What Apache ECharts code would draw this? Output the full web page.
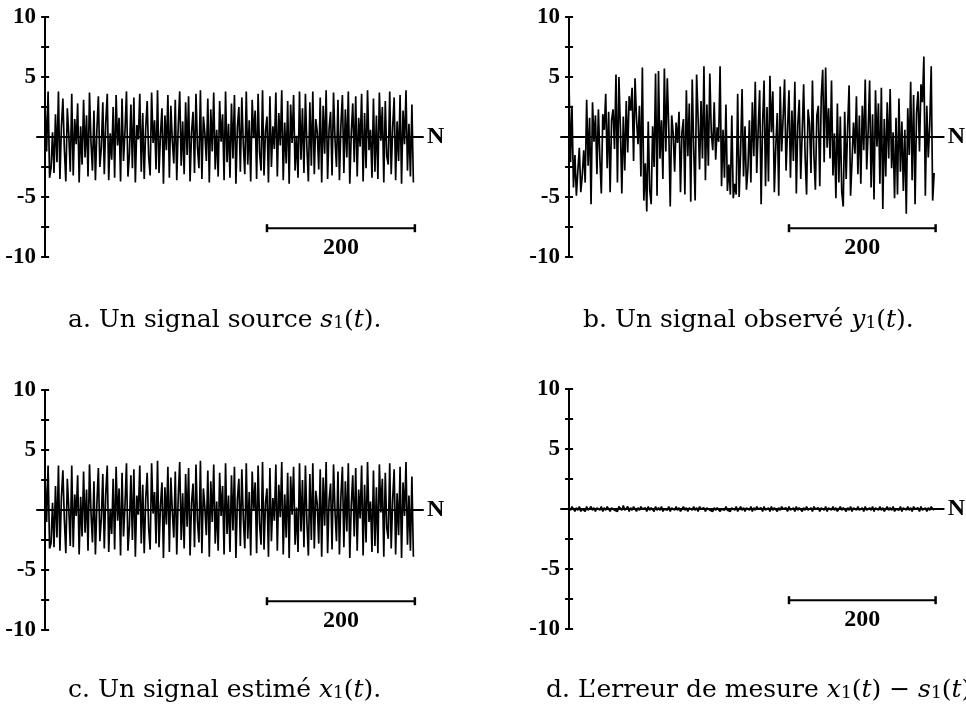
<!DOCTYPE html>
<html>
<head>
<meta charset="utf-8">
<script src="https://cdn.jsdelivr.net/npm/echarts@6/dist/echarts.min.js"></script>
<style>
html, body { margin: 0; padding: 0; background: #fff; }
#main { width: 966px; height: 708px; }
</style>
</head>
<body>
<div id="main"></div>
<script>
// sample values (every 2nd sample)
const sourceS1 = [
  2.6, -1.2, 3.8, -3.4, -2.6, 0.4, -3.0, 1.9, -2.1, 3.8, -3.5, 0.8, 3.2, -1.0, -3.7, 2.4, 0.2, -2.9, 3.6, -3.2, 1.5, -0.6, 2.8, -3.8, 0.9,
  -2.3, 3.1, -1.7, 1.8, -3.3, 3.7, -0.4, -2.8, 2.2, -3.6, 0.6, 3.4, -2.5, -0.9, 2.9, -3.1, 1.2, 3.6, -3.6, 0.3, -1.9, 2.5, -3.4, 3.5, -0.7,
  1.6, -3.7, 3.2, -2.0, 0.5, 3.8, -3.3, -1.4, 2.7, -2.6, 3.3, -3.8, 1.0, -0.2, 3.6, -2.9, 2.0, -3.5, 0.7, 3.0, -1.6, -3.2, 3.7, -0.5, 1.4,
  -2.7, 3.9, -3.0, 0.2, 2.4, -3.9, 1.8, -1.1, 3.5, -3.4, 2.6, -0.3, -2.2, 3.1, -3.6, 0.9, 3.8, -2.4, 1.3, -3.1, 2.9, -1.5, 3.4, -3.7, 0.4,
  2.1, -3.0, 3.6, -0.8, -2.6, 3.9, -3.5, 1.7, 0.3, -2.0, 3.2, -3.8, 2.3, -1.2, 3.7, -2.7, 0.6, -3.3, 3.0, -0.4, 1.9, -3.6, 3.8, -2.1, 1.1,
  -3.4, 2.8, -1.8, 3.5, -3.9, 0.8, 2.5, -2.9, 3.3, -0.6, -3.1, 3.8, -2.3, 1.4, -3.7, 3.1, -0.1, 2.2, -3.5, 3.6, -1.3, -2.8, 3.9, -3.2, 0.5,
  1.7, -3.8, 3.4, -2.5, 0.9, -1.0, 3.7, -3.3, 2.0, -0.7, 3.9, -3.6, 1.2, -2.2, 3.0, -3.9, 2.7, -0.5, 3.5, -2.8, 0.1, -3.4, 3.8, -1.9, 2.4,
  -3.0, 3.6, -0.9, -3.7, 2.9, -2.4, 3.8, -3.1, 1.5, 0.4, -2.7, 3.3, -3.8, 2.6, -1.4, 3.9, -3.5, 0.7, 2.1, -3.2, 3.7, -0.2, -2.5, 3.1, -3.6,
  1.0, 3.5, -3.0, 2.3, -1.7, 3.8, -3.9, 0.3, 2.8, -2.1, 3.4, -3.3, 1.6, -0.8, 3.6, -3.7, 2.0, -2.6, 3.9, -1.1, 0.6, -3.4, 3.2, -2.9, 1.8,
  -3.5, 3.7, -0.3, 2.5, -3.8, 3.0, -1.6, -2.3, 3.8, -3.1, 0.8, 3.3, -3.6, 1.3, -2.0, 3.5, -3.9, 2.2, -0.6, 3.9, -2.8, 1.1, -3.3, 2.7, -3.8
]

const observedY1 = [
  4.4, -2.1, 2.6, -4.2, -1.5, -4.9, -2.8, -0.9, -4.6, -3.2, -1.1, -3.8, 3.1, -2.4, 1.6, -5.6, 2.9, -0.4, 1.8, -3.1, 2.3, -1.7, -4.7, 1.9, 0.6,
  3.6, -2.6, 2.1, -4.6, 1.4, 2.3, -1.0, 5.2, -3.8, 5.0, 0.8, -4.7, 1.7, -2.8, 3.0, -1.3, 3.4, 2.2, 4.1, -2.0, 4.9, 1.5, -0.6, 2.6, -3.3,
  5.8, -5.3, -2.2, -6.2, 1.3, -4.4, -5.6, 0.9, -2.5, 5.3, -4.9, 5.5, -1.8, 1.4, -3.5, 5.7, -1.2, 4.9, 0.7, -5.8, 1.8, 0.3, -2.9, 1.2, -0.5,
  2.1, -4.6, 0.4, 1.5, -4.8, 3.9, -1.6, 2.8, -5.4, 4.8, -0.9, -5.3, 5.2, 1.6, -2.7, 3.0, -1.8, 5.9, -3.6, 2.7, -2.4, 5.3, 0.4, -1.1, 2.9,
  -1.9, 0.8, -0.4, 5.9, -4.1, 0.6, -3.4, 2.7, -4.5, -2.3, -4.8, 1.8, -5.1, -3.9, -4.8, 3.6, -5.0, -1.2, 4.0, -3.3, 0.9, -4.4, -2.6, 1.4, -3.8,
  2.9, -1.6, 4.6, -3.0, 0.7, 3.9, -5.6, 1.1, 4.7, -4.1, 2.5, -3.7, 5.1, 0.4, 3.8, -4.6, -0.8, 2.0, -4.9, 4.2, -1.2, 1.6, 4.8, -2.8, 0.6,
  3.9, -3.4, 2.2, -2.0, 4.6, -4.7, 1.0, 3.1, -3.5, 0.3, 4.4, -1.6, -4.8, 2.3, 1.1, -3.0, 4.7, -1.5, -4.4, 1.8, 2.6, -4.1, 3.3, 5.6, -2.1,
  5.8, -0.9, 2.4, -1.8, 4.7, -3.2, 0.3, -5.1, 2.8, -3.8, 1.7, -4.6, -5.8, 2.1, -3.5, 0.8, 4.3, -4.9, -2.0, 1.2, -1.4, 3.4, -3.1, 1.8, -3.9,
  2.6, -1.1, 4.8, -2.7, 0.5, 4.7, -4.2, 1.9, -5.2, 3.9, -0.8, 2.8, -3.9, 4.1, -6.0, 1.5, -3.3, 2.9, -1.8, 4.0, -2.6, 0.4, -5.1, 1.6, -4.8,
  3.2, -2.9, 1.3, -4.5, 0.6, -6.4, 2.4, -1.5, 4.6, -3.6, 3.5, -5.6, 2.0, 3.8, -1.2, 4.4, 2.9, 6.7, -4.9, 2.6, -1.7, 1.0, 5.9, -5.3, -3.0
]

const estimatedX1 = [
  2.7, -1.0, 3.7, -3.2, -2.8, 0.6, -3.1, 2.0, -2.3, 3.7, -3.4, 1.0, 3.3, -0.8, -3.6, 2.6, 0.1, -3.0, 3.7, -3.1, 1.3, -0.5, 2.9, -3.7, 1.1,
  -2.2, 3.2, -1.9, 1.7, -3.4, 3.8, -0.2, -2.7, 2.4, -3.7, 0.5, 3.5, -2.6, -0.7, 3.0, -3.2, 1.4, 3.7, -3.5, 0.1, -2.0, 2.6, -3.3, 3.6, -0.9,
  1.8, -3.8, 3.1, -2.2, 0.4, 3.9, -3.4, -1.3, 2.9, -2.5, 3.4, -3.9, 1.2, -0.4, 3.7, -2.8, 2.1, -3.6, 0.9, 3.1, -1.5, -3.3, 3.9, -0.3, 1.5,
  -2.8, 4.1, -3.1, 0.4, 2.3, -4.0, 1.9, -1.2, 3.6, -3.5, 2.7, -0.1, -2.3, 3.2, -3.7, 1.1, 4.0, -2.5, 1.4, -3.2, 3.0, -1.4, 3.5, -3.8, 0.6,
  2.2, -3.1, 3.8, -0.9, -2.7, 4.1, -3.6, 1.8, 0.2, -2.1, 3.3, -3.9, 2.4, -1.0, 3.8, -2.8, 0.7, -3.4, 3.1, -0.5, 2.0, -3.7, 3.9, -2.0, 1.2,
  -3.5, 2.9, -1.7, 3.6, -4.0, 0.9, 2.6, -3.0, 3.4, -0.7, -3.2, 3.9, -2.4, 1.5, -3.8, 3.2, 0.0, 2.3, -3.6, 3.7, -1.2, -2.9, 4.0, -3.3, 0.6,
  1.8, -3.9, 3.5, -2.6, 1.0, -0.9, 3.8, -3.4, 2.1, -0.6, 4.0, -3.7, 1.3, -2.3, 3.1, -4.0, 2.8, -0.4, 3.6, -2.9, 0.2, -3.5, 3.9, -1.8, 2.5,
  -3.1, 3.7, -1.0, -3.8, 3.0, -2.5, 3.9, -3.2, 1.6, 0.5, -2.8, 3.4, -3.9, 2.7, -1.3, 4.0, -3.6, 0.8, 2.2, -3.3, 3.8, -0.1, -2.6, 3.2, -3.7,
  1.1, 3.6, -3.1, 2.4, -1.8, 3.9, -4.0, 0.4, 2.9, -2.2, 3.5, -3.4, 1.7, -0.7, 3.7, -3.8, 2.1, -2.7, 4.0, -1.0, 0.7, -3.5, 3.3, -3.0, 1.9,
  -3.6, 3.8, -0.2, 2.6, -3.9, 3.1, -1.5, -2.4, 3.9, -3.2, 0.9, 3.4, -3.7, 1.4, -2.1, 3.6, -4.0, 2.3, -0.5, 4.0, -2.9, 1.2, -3.4, 2.8, -3.9
]

const errorX1S1 = [
  0.1, -0.1, 0.2, 0.0, -0.2, 0.1, -0.1, 0.2, -0.2, 0.0, 0.1, -0.2, 0.2, -0.1, 0.0, 0.2, -0.1, 0.1, -0.2, 0.1, 0.0, -0.1, 0.2, -0.2, 0.1,
  -0.1, 0.2, 0.0, -0.2, 0.1, 0.2, -0.1, 0.0, -0.2, 0.2, 0.1, -0.1, 0.3, -0.1, 0.0, 0.2, -0.2, 0.1, -0.1, 0.2, 0.0, -0.2, 0.1, -0.1, 0.2,
  0.0, -0.1, 0.1, -0.2, 0.2, -0.1, 0.1, 0.0, -0.2, 0.2, -0.1, 0.1, -0.1, 0.2, -0.2, 0.0, 0.1, -0.1, 0.2, -0.2, 0.1, 0.0, -0.1, 0.2, -0.1,
  0.1, -0.2, 0.0, 0.2, -0.1, 0.1, -0.2, 0.1, 0.0, -0.1, 0.2, -0.1, 0.1, -0.2, 0.2, 0.0, -0.1, 0.1, -0.2, 0.1, 0.2, -0.1, 0.0, -0.2, 0.1,
  -0.1, 0.1, 0.2, -0.2, 0.0, 0.1, -0.1, 0.2, -0.1, 0.0, -0.2, 0.1, 0.1, -0.1, 0.2, -0.2, 0.0, 0.2, -0.1, 0.1, -0.2, 0.1, 0.0, -0.1, 0.2,
  -0.2, 0.1, -0.1, 0.2, 0.0, -0.1, 0.1, -0.2, 0.2, -0.1, 0.0, 0.1, -0.2, 0.2, -0.1, 0.1, 0.0, -0.2, 0.1, -0.1, 0.2, 0.0, -0.1, 0.1, -0.2,
  0.2, -0.1, 0.0, 0.1, -0.2, 0.2, -0.1, 0.1, 0.0, -0.2, 0.1, -0.1, 0.2, -0.1, 0.0, 0.1, -0.2, 0.2, 0.0, -0.1, 0.1, -0.2, 0.1, 0.0, -0.1,
  0.2, -0.2, 0.1, 0.0, -0.1, 0.2, -0.1, 0.1, -0.2, 0.0, 0.2, -0.1, 0.1, 0.0, -0.2, 0.1, -0.1, 0.2, -0.2, 0.1, 0.0, -0.1, 0.2, -0.1, 0.0,
  0.1, -0.2, 0.2, -0.1, 0.0, 0.1, -0.1, 0.2, -0.2, 0.1, 0.0, -0.1, 0.2, -0.1, 0.1, -0.2, 0.0, 0.2, -0.1, 0.1, -0.1, 0.2, -0.2, 0.0, 0.1,
  -0.1, 0.2, -0.2, 0.1, 0.0, -0.1, 0.2, -0.1, 0.1, -0.2, 0.2, 0.0, -0.1, 0.1, -0.2, 0.2, -0.1, 0.0, 0.1, -0.2, 0.1, -0.1, 0.2, 0.0, -0.1
]

const sampleStep = 2
const yLabels = [-10, -5, 5, 10]
const scaleBar = [300, 500]
const scaleBarLevel = -7.6
const scaleText = '200'
const axisName = 'N'
const captions = [
  'a. Un signal source {i|s}{sub|1}({i|t}).',
  'b. Un signal observé {i|y}{sub|1}({i|t}).',
  'c. Un signal estimé {i|x}{sub|1}({i|t}).',
  'd. L’erreur de mesure {i|x}{sub|1}({i|t}) − {i|s}{sub|1}({i|t})'
]

const panels = [
  { data: sourceS1, left: 37, top: 17, capX: 68, capY: 320 },
  { data: observedY1, left: 561, top: 17, capX: 583, capY: 320 },
  { data: estimatedX1, left: 37, top: 390, capX: 68, capY: 690 },
  { data: errorX1S1, left: 561, top: 389, capX: 546, capY: 690 }
]

const serif = 'Liberation Serif'
const capFont = 'DejaVu Serif'

const grid = []
const xAxis = []
const yAxis = []
const series = []
const graphic = []

panels.forEach((p, i) => {
  grid.push({ left: p.left, top: p.top, width: 386, height: 240 })
  xAxis.push({
    gridIndex: i,
    type: 'value',
    min: -11,
    max: 511,
    axisLine: { onZero: true, lineStyle: { color: '#000', width: 2 } },
    axisTick: { show: false },
    axisLabel: { show: false },
    splitLine: { show: false },
    name: axisName,
    nameLocation: 'end',
    nameGap: 4,
    nameTextStyle: { color: '#000', fontFamily: serif, fontWeight: 'bold', fontSize: 24 }
  })
  // outer half of the ticks + labels, sits on x = 0
  yAxis.push({
    gridIndex: i,
    type: 'value',
    position: 'left',
    min: -10,
    max: 10,
    interval: 2.5,
    axisLine: { onZero: true, lineStyle: { color: '#000', width: 2 } },
    axisTick: { show: true, length: 4, lineStyle: { color: '#000', width: 2 } },
    axisLabel: {
      margin: 1,
      color: '#000',
      fontFamily: serif,
      fontWeight: 'bold',
      fontSize: 23,
      formatter: (v) => yLabels.indexOf(v) >= 0 ? String(v) : ''
    },
    splitLine: { show: false }
  })
  // inner half of the ticks (shifted onto x = 0 by offset)
  yAxis.push({
    gridIndex: i,
    type: 'value',
    position: 'left',
    offset: -8.1,
    min: -10,
    max: 10,
    interval: 2.5,
    axisLine: { show: false, onZero: false },
    axisTick: { show: true, inside: true, length: 4, lineStyle: { color: '#000', width: 2 } },
    axisLabel: { show: false },
    splitLine: { show: false }
  })

  series.push({
    type: 'line',
    xAxisIndex: i,
    yAxisIndex: i * 2,
    data: p.data.map((v, k) => [k * sampleStep, v]),
    showSymbol: false,
    symbol: 'none',
    silent: true,
    lineStyle: { color: '#000', width: 1.7 }
  })
  series.push({
    type: 'line',
    xAxisIndex: i,
    yAxisIndex: i * 2,
    data: scaleBar.map((x) => [x, scaleBarLevel]),
    symbol: 'rect',
    symbolSize: [2.5, 8],
    itemStyle: { color: '#000' },
    lineStyle: { color: '#000', width: 2 },
    silent: true
  })
  series.push({
    type: 'scatter',
    xAxisIndex: i,
    yAxisIndex: i * 2,
    data: [[(scaleBar[0] + scaleBar[1]) / 2, scaleBarLevel]],
    symbolSize: 0,
    silent: true,
    itemStyle: { color: '#000', opacity: 1 },
    label: {
      show: true,
      position: 'bottom',
      distance: 8,
      formatter: scaleText,
      color: '#000',
      opacity: 1,
      fontFamily: serif,
      fontWeight: 'bold',
      fontSize: 24
    }
  })

  graphic.push({
    type: 'text',
    x: p.capX,
    y: p.capY,
    silent: true,
    style: {
      text: captions[i],
      fill: '#000',
      fontFamily: capFont,
      fontSize: 25,
      textAlign: 'left',
      textVerticalAlign: 'middle',
      rich: {
        i: { fontFamily: capFont, fontStyle: 'italic', fontSize: 25, fill: '#000' },
        sub: { fontFamily: capFont, fontSize: 17, fill: '#000', verticalAlign: 'bottom', lineHeight: 16 }
      }
    }
  })
})

const chart = echarts.init(document.getElementById('main'), null, { renderer: 'canvas' })
chart.setOption({
  backgroundColor: '#fff',
  animation: false,
  grid,
  xAxis,
  yAxis,
  series,
  graphic
})
</script>
</body>
</html>
